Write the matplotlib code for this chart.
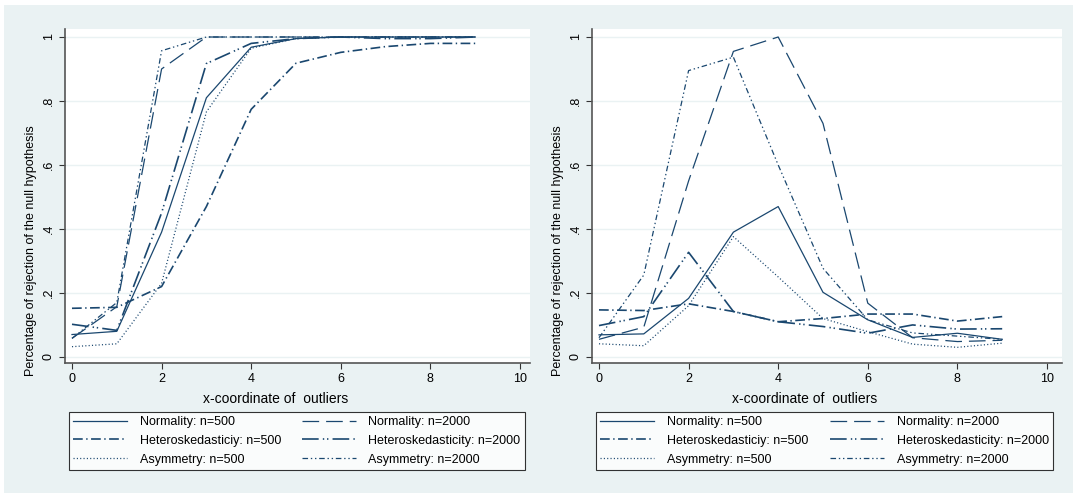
import matplotlib.pyplot as plt
from matplotlib.patches import Rectangle

plt.rcParams['font.family'] = ['Liberation Sans', 'DejaVu Sans']
plt.rcParams['lines.scale_dashes'] = False

# x-coordinate of outliers
x = [0, 1, 2, 3, 4, 5, 6, 7, 8, 9]

# left panel
left_norm500 = [0.07, 0.08, 0.39, 0.81, 0.968, 0.995, 1.0, 1.0, 1.0, 1.0]
left_norm2000 = [0.058, 0.157, 0.90, 1.0, 1.0, 1.0, 1.0, 1.0, 1.0, 1.0]
left_het500 = [0.152, 0.155, 0.22, 0.47, 0.774, 0.918, 0.952, 0.97, 0.98, 0.98]
left_het2000 = [0.102, 0.083, 0.45, 0.917, 0.98, 0.995, 1.0, 0.995, 0.995, 1.0]
left_asym500 = [0.032, 0.041, 0.23, 0.766, 0.965, 0.995, 1.0, 1.0, 1.0, 1.0]
left_asym2000 = [0.058, 0.17, 0.957, 1.0, 1.0, 1.0, 1.0, 1.0, 1.0, 1.0]

# right panel
right_norm500 = [0.069, 0.072, 0.183, 0.39, 0.47, 0.202, 0.116, 0.061, 0.074, 0.055]
right_norm2000 = [0.055, 0.093, 0.55, 0.955, 1.0, 0.73, 0.168, 0.06, 0.048, 0.052]
right_het500 = [0.147, 0.145, 0.166, 0.142, 0.11, 0.12, 0.134, 0.134, 0.112, 0.126]
right_het2000 = [0.098, 0.126, 0.327, 0.142, 0.11, 0.095, 0.074, 0.10, 0.087, 0.088]
right_asym500 = [0.041, 0.035, 0.16, 0.376, 0.25, 0.12, 0.079, 0.04, 0.03, 0.043]
right_asym2000 = [0.06, 0.256, 0.895, 0.937, 0.60, 0.277, 0.116, 0.075, 0.065, 0.055]

labels = ['Normality: n=500', 'Normality: n=2000',
          'Heteroskedasticiy: n=500', 'Heteroskedasticity: n=2000',
          'Asymmetry: n=500', 'Asymmetry: n=2000']
yticks = [0, 0.2, 0.4, 0.6, 0.8, 1]
yticklabels = ['0', '.2', '.4', '.6', '.8', '1']
xticks = [0, 2, 4, 6, 8, 10]

navy = '#1a476f'
bg = '#eaf2f3'
styles = [
    dict(linestyle='-', lw=0.9),
    dict(linestyle=(0, (12, 5)), lw=0.9),
    dict(linestyle=(0, (7, 2.5, 1, 2.5)), lw=1.2),
    dict(linestyle=(0, (12, 3, 1, 2, 1, 3)), lw=1.2),
    dict(linestyle=(0, (0.8, 1.6)), lw=0.9),
    dict(linestyle=(0, (4, 2, 1, 2, 1, 2)), lw=0.9),
]

W, H = 1073, 493
fig = plt.figure(figsize=(W / 100, H / 100), dpi=100, facecolor='white')
fig.patches.append(Rectangle((4 / W, 0), 1, (H - 5) / H, transform=fig.transFigure,
                             facecolor=bg, edgecolor='none', zorder=-10))

panels = [
    (65, 530, [left_norm500, left_norm2000, left_het500, left_het2000, left_asym500, left_asym2000], 69, 525),
    (592, 1062, [right_norm500, right_norm2000, right_het500, right_het2000, right_asym500, right_asym2000], 596, 1053),
]

for x0, x1, series, lx0, lx1 in panels:
    ax = fig.add_axes([x0 / W, (H - 363) / H, (x1 - x0) / W, 334 / H])
    ax.set_facecolor('white')
    handles = []
    for ys, st in zip(series, styles):
        h, = ax.plot(x, ys, color=navy, **st)
        handles.append(h)
    ax.set_xlim(-0.156, -0.156 + (x1 - x0) / 44.8)
    ax.set_ylim(-0.019, 1.025)
    ax.set_yticks(yticks)
    ax.set_yticklabels(yticklabels, rotation=90, va='center')
    ax.set_xticks(xticks)
    ax.tick_params(labelsize=9, length=4, color='#333333', width=0.8)
    for t in yticks:
        ax.axhline(t, color=bg, lw=1, zorder=0)
    for s in ['top', 'right']:
        ax.spines[s].set_visible(False)
    for s in ['left', 'bottom']:
        ax.spines[s].set_color('#555555')
        ax.spines[s].set_linewidth(1.2)
    ax.set_xlabel('x-coordinate of  outliers', fontsize=10)
    ax.xaxis.set_label_coords(0.452, -0.087)
    ax.set_ylabel('Percentage of rejection of the null hypothesis', fontsize=9)
    ax.yaxis.set_label_coords(-0.06, 0.335)

    order = [0, 2, 4, 1, 3, 5]
    leg = fig.legend([handles[i] for i in order], [labels[i] for i in order],
                     ncol=2, mode='expand', loc='lower left',
                     bbox_to_anchor=(lx0 / W, (H - 470) / H, (lx1 - lx0) / W, 63 / H),
                     bbox_transform=fig.transFigure, fontsize=9, frameon=True,
                     fancybox=False, edgecolor='black', handlelength=4.3,
                     handletextpad=1.0, labelspacing=0.55, borderaxespad=0,
                     borderpad=0.35)
    leg.get_frame().set_linewidth(0.8)

fig.savefig('out.png', dpi=100, facecolor=fig.get_facecolor())
